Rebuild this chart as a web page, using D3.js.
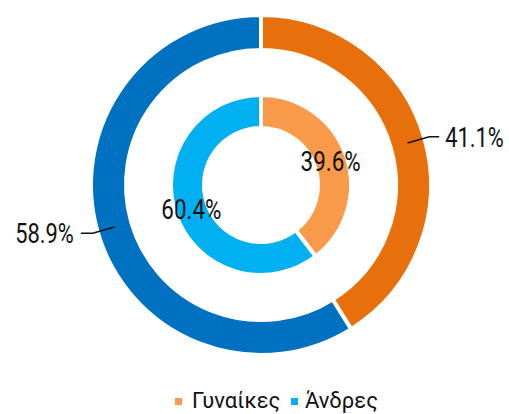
<!DOCTYPE html>
<meta charset="utf-8">
<script src="https://d3js.org/d3.v7.min.js"></script>
<style>
body { margin: 0; background: #fff; }
text { font-family: Roboto, Arial, sans-serif; fill: #111; }
</style>
<div id="chart"></div>
<script>
// Data
var categories = ["Γυναίκες", "Άνδρες"]
var outerValues = [41.1, 58.9]
var innerValues = [39.6, 60.4]
var outerColors = ["#E8700C", "#0070C0"]
var innerColors = ["#F89A4A", "#00B0F0"]
var legendColors = innerColors

var width = 509, height = 414
var cx = 261, cy = 185

var svg = d3.select("#chart").append("svg")
  .attr("width", width)
  .attr("height", height)

var g = svg.append("g").attr("transform", "translate(" + cx + "," + cy + ")")

var pie = d3.pie().sort(null).value(function(d){ return d })

var outerArc = d3.arc().innerRadius(135).outerRadius(170)
var innerArc = d3.arc().innerRadius(57).outerRadius(90)

var outerData = pie(outerValues)
var innerData = pie(innerValues)

// rings
g.selectAll(".outer").data(outerData).enter().append("path")
  .attr("d", outerArc)
  .attr("fill", function(d, i){ return outerColors[i] })
  .attr("stroke", "#fff").attr("stroke-width", 4)

g.selectAll(".inner").data(innerData).enter().append("path")
  .attr("d", innerArc)
  .attr("fill", function(d, i){ return innerColors[i] })
  .attr("stroke", "#fff").attr("stroke-width", 4)

// condensed-looking text: squeeze Roboto horizontally
function label(sel, x, y, txt, anchor, size, sx) {
  sel.append("text")
    .attr("transform", "translate(" + x + "," + y + ") scale(" + sx + ",1)")
    .attr("text-anchor", anchor)
    .style("font-size", size + "px")
    .text(txt)
}

// inner labels at centroids
innerData.forEach(function(d) {
  var c = innerArc.centroid(d)
  label(g, c[0], c[1] + 10, d.data.toFixed(1) + "%", "middle", 28, 0.8)
})

// outer labels with leader lines
var elbowArc = d3.arc().innerRadius(175).outerRadius(175)
outerData.forEach(function(d) {
  var a = outerArc.centroid(d)
  var b = elbowArc.centroid(d)
  var right = b[0] > 0
  var e = [b[0] + (right ? 10 : -12), b[1]]
  g.append("polyline")
    .attr("points", [a, b, e].map(function(p){ return p.join(",") }).join(" "))
    .attr("fill", "none").attr("stroke", "#111").attr("stroke-width", 1.5)
  label(g, e[0] + (right ? 6 : -7), e[1] + 10, d.data.toFixed(1) + "%", right ? "start" : "end", 28, 0.78)
})

// legend
var legendX = [175, 291]
var legendTextX = [192, 305]
var legend = svg.append("g")
categories.forEach(function(c, i) {
  legend.append("rect")
    .attr("x", legendX[i]).attr("y", 398)
    .attr("width", 7).attr("height", 7)
    .attr("fill", legendColors[i])
  label(legend, legendTextX[i], 408, c, "start", 22, 1)
})
</script>
